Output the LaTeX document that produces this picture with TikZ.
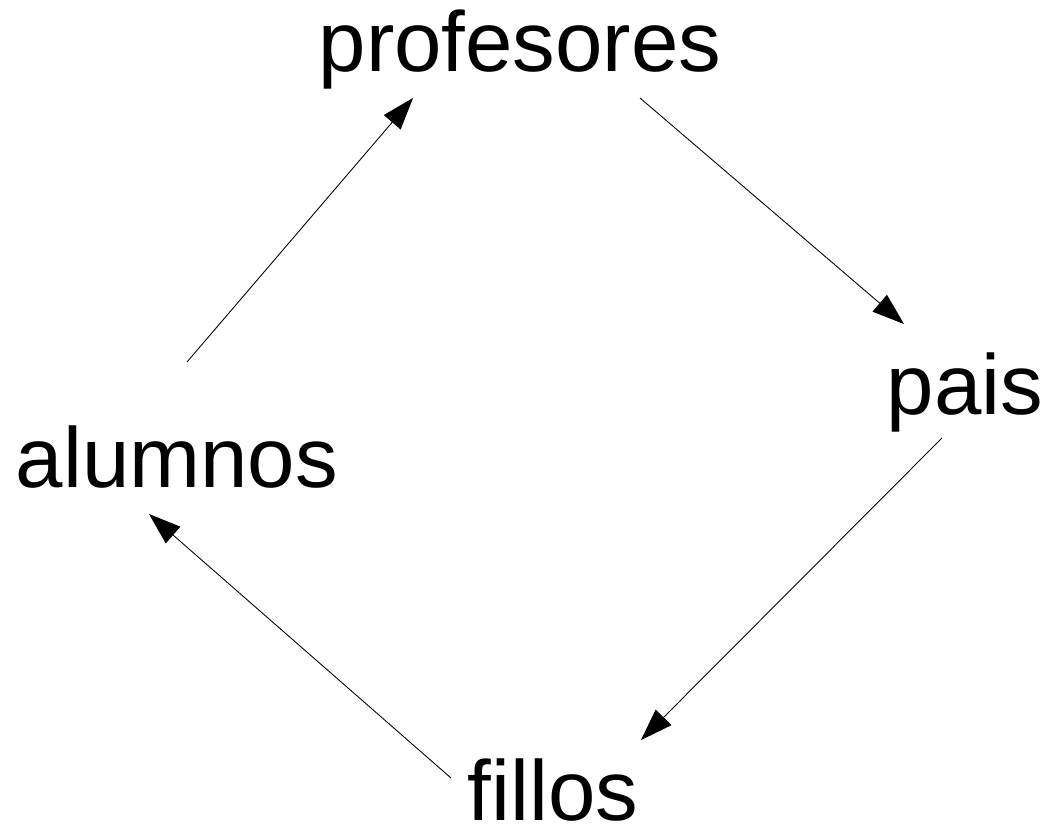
\documentclass[tikz,border=0pt]{standalone}
\usepackage{fontspec}
\setmainfont{Liberation Sans}
\usetikzlibrary{arrows.meta}
\begin{document}
\begin{tikzpicture}[x=0.02cm,y=-0.02cm,
  lbl/.style={anchor=base,inner sep=0pt,font=\fontsize{48.5pt}{53pt}\selectfont},
  conn/.style={line width=0.5pt,-{Triangle[length=0.64cm,width=0.44cm]}}]
\useasboundingbox (0,0) rectangle (1050,834);
\node[lbl] (profesores) at (520,72) {profesores};
\node[lbl] (pais) at (965,414) {pais};
\node[lbl] (alumnos) at (177,487) {alumnos};
\node[lbl] (fillos) at (553,820) {fillos};
\draw[conn] ([shift={(10,-125)}]alumnos.base) -- ([shift={(-107,26)}]profesores.base);
\draw[conn] ([shift={(120,26)}]profesores.base) -- ([shift={(-61,-90)}]pais.base);
\draw[conn] ([shift={(-23,24)}]pais.base) -- ([shift={(88,-80)}]fillos.base);
\draw[conn] ([shift={(-102,-42)}]fillos.base) -- ([shift={(-28,27)}]alumnos.base);
\end{tikzpicture}
\end{document}
